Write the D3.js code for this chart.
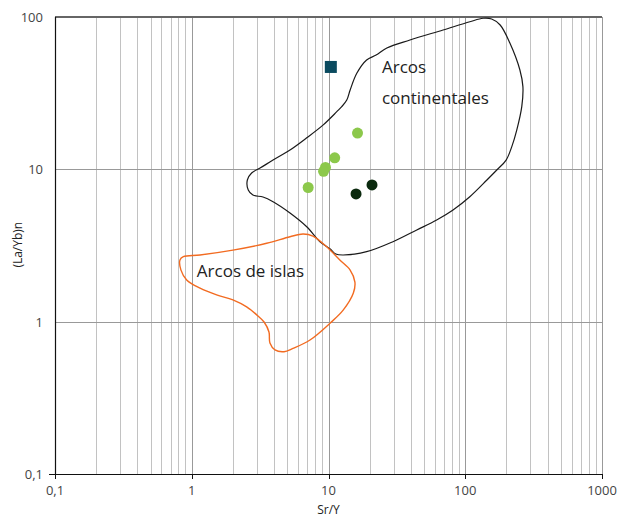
<!DOCTYPE html>
<meta charset="utf-8">
<style>
  body { margin: 0; background: #fff; font-family: 'Open Sans', sans-serif; }
  .tick-label { font-size: 13px; fill: #444; }
  .axis-title { font-size: 12px; fill: #222; }
  .field-label { font-size: 17px; fill: #222; }
</style>
<script src="https://d3js.org/d3.v7.min.js"></script>
<div id="chart"></div>
<script>
// ticks
var xTicks = [0.1, 1, 10, 100, 1000];
var yTicks = [0.1, 1, 10, 100];
var tickText = {0.1: "0,1", 1: "1", 10: "10", 100: "100", 1000: "1000"};

// samples (Sr/Y, (La/Yb)n)
var squarePts = [[10.4, 47]];
var lightPts = [[16.3, 17.3], [11.1, 11.9], [9.5, 10.3], [9.2, 9.7], [7.1, 7.6]];
var darkPts = [[15.9, 6.9], [20.8, 7.9]];

// field outlines
var continental = [
  [2.55, 8.51], [2.74, 9.46], [3.16, 10.2], [3.93, 11.5], [5.23, 13.4], [6.93, 16.1],
  [9.11, 19.5], [11.5, 23.9], [12.5, 25.8], [13.6, 28.5], [14.4, 33.2], [16.1, 42.7],
  [19.0, 52.2], [22.3, 56.3], [26.7, 62.6], [39.4, 70.6], [68.8, 82.2], [108, 93.1],
  [135, 98.1], [156, 97.0], [180, 88.6], [212, 67.5], [251, 44.9], [264, 34.9],
  [259, 25.8], [238, 18.1], [219, 14.1], [199, 11.5], [170, 9.9], [144, 8.51],
  [108, 6.61], [81.4, 5.41], [61.8, 4.65], [44.2, 4.00], [29.6, 3.35], [19.0, 2.88],
  [12.8, 2.74], [11.3, 2.78], [10.3, 3.00], [8.67, 3.35], [6.93, 4.20], [5.23, 5.17],
  [3.93, 6.13], [3.32, 6.58], [2.80, 6.78], [2.59, 7.32]
];
var islands = [
  [0.82, 2.54], [0.868, 2.67], [1.15, 2.74], [2.00, 2.95], [3.53, 3.27], [5.23, 3.61],
  [6.51, 3.76], [7.70, 3.65], [9.70, 3.10], [12.1, 2.54], [14.4, 2.18], [15.6, 1.82],
  [15.2, 1.54], [12.8, 1.19], [10.3, 0.98], [7.32, 0.758], [5.50, 0.668], [4.73, 0.635],
  [4.06, 0.652], [3.73, 0.724], [3.67, 0.855], [3.38, 0.995], [3.05, 1.09], [2.52, 1.25],
  [2.00, 1.39], [1.52, 1.50], [1.15, 1.66], [0.918, 1.88], [0.834, 2.18]
];

var W = 626, H = 517;
var margin = {top: 17, right: 24, bottom: 43, left: 55};
var width = W - margin.left - margin.right,
    height = H - margin.top - margin.bottom;

var svg = d3.select("#chart").append("svg")
    .attr("width", W).attr("height", H);
var g = svg.append("g")
    .attr("transform", "translate(" + margin.left + "," + margin.top + ")");

var x = d3.scaleLog().domain([0.1, 1000]).range([0, width]);
var y = d3.scaleLog().domain([0.1, 100]).range([height, 0]);

// vertical grid: every minor step
var minors = [];
[0.1, 1, 10, 100].forEach(function(d) {
  for (var k = 2; k <= 9; k++) minors.push(d * k);
});
g.selectAll(".vminor").data(minors).enter().append("line")
    .attr("x1", function(d) { return Math.round(x(d)) + 0.5; })
    .attr("x2", function(d) { return Math.round(x(d)) + 0.5; })
    .attr("y1", 0).attr("y2", height)
    .style("stroke", "#c2c2c2").style("stroke-width", 1);
g.selectAll(".vmajor").data([1, 10, 100, 1000]).enter().append("line")
    .attr("x1", function(d) { return Math.round(x(d)) + 0.5; })
    .attr("x2", function(d) { return Math.round(x(d)) + 0.5; })
    .attr("y1", 0).attr("y2", height)
    .style("stroke", "#999").style("stroke-width", 1);
g.selectAll(".hmajor").data([1, 10]).enter().append("line")
    .attr("x1", 0).attr("x2", width)
    .attr("y1", function(d) { return Math.round(y(d)) + 0.5; })
    .attr("y2", function(d) { return Math.round(y(d)) + 0.5; })
    .style("stroke", "#999").style("stroke-width", 1);
// top border
g.append("line").attr("x1", 0).attr("x2", width)
    .attr("y1", y(100)).attr("y2", y(100))
    .style("stroke", "#666").style("stroke-width", 2);

// axes lines
g.append("line").attr("x1", 0.5).attr("x2", 0.5).attr("y1", 0).attr("y2", height)
    .style("stroke", "#111").style("stroke-width", 1.2);
g.append("line").attr("x1", -6).attr("x2", width).attr("y1", height + 0.5).attr("y2", height + 0.5)
    .style("stroke", "#111").style("stroke-width", 1.2);
g.selectAll(".xtick").data(xTicks).enter().append("line")
    .attr("x1", function(d) { return Math.round(x(d)) + 0.5; })
    .attr("x2", function(d) { return Math.round(x(d)) + 0.5; })
    .attr("y1", height).attr("y2", height + 5)
    .style("stroke", "#111");

// tick labels
g.selectAll(".xlab").data(xTicks).enter().append("text")
    .attr("class", "tick-label")
    .attr("x", function(d) { return x(d); })
    .attr("y", height + 21)
    .attr("text-anchor", "middle")
    .text(function(d) { return tickText[d]; });
g.selectAll(".ylab").data(yTicks).enter().append("text")
    .attr("class", "tick-label")
    .attr("x", -12)
    .attr("y", function(d) { return y(d) + 5; })
    .attr("text-anchor", "end")
    .text(function(d) { return tickText[d]; });

// axis titles
svg.append("text").attr("class", "axis-title")
    .attr("x", margin.left + x(10)).attr("y", 514)
    .attr("text-anchor", "middle").text("Sr/Y");
svg.append("text").attr("class", "axis-title")
    .attr("transform", "translate(22," + (margin.top + y(3.2)) + ") rotate(-90)")
    .attr("text-anchor", "middle").text("(La/Yb)n");

// fields
var line = d3.line()
    .x(function(d) { return x(d[0]); })
    .y(function(d) { return y(d[1]); })
    .curve(d3.curveCatmullRomClosed.alpha(0.5));
g.append("path").datum(continental).attr("d", line)
    .style("fill", "none").style("stroke", "#1a1a1a").style("stroke-width", 1.2);
g.append("path").datum(islands).attr("d", line)
    .style("fill", "none").style("stroke", "#f26b21").style("stroke-width", 1.4);

g.append("text").attr("class", "field-label")
    .attr("x", x(24.6)).attr("y", y(42.9)).text("Arcos");
g.append("text").attr("class", "field-label")
    .attr("x", x(24.6)).attr("y", y(26.9)).text("continentales");
g.append("text").attr("class", "field-label")
    .attr("x", x(1.09)).attr("y", y(1.96)).text("Arcos de islas");

// samples
g.selectAll(".light").data(lightPts).enter().append("circle")
    .attr("cx", function(d) { return x(d[0]); })
    .attr("cy", function(d) { return y(d[1]); })
    .attr("r", 5.5).style("fill", "#8cc84b");
g.selectAll(".dark").data(darkPts).enter().append("circle")
    .attr("cx", function(d) { return x(d[0]); })
    .attr("cy", function(d) { return y(d[1]); })
    .attr("r", 5.5).style("fill", "#0b2a0e");
g.selectAll(".sq").data(squarePts).enter().append("rect")
    .attr("x", function(d) { return x(d[0]) - 6; })
    .attr("y", function(d) { return y(d[1]) - 6; })
    .attr("width", 12).attr("height", 12)
    .style("fill", "#0a4a5f");
</script>
